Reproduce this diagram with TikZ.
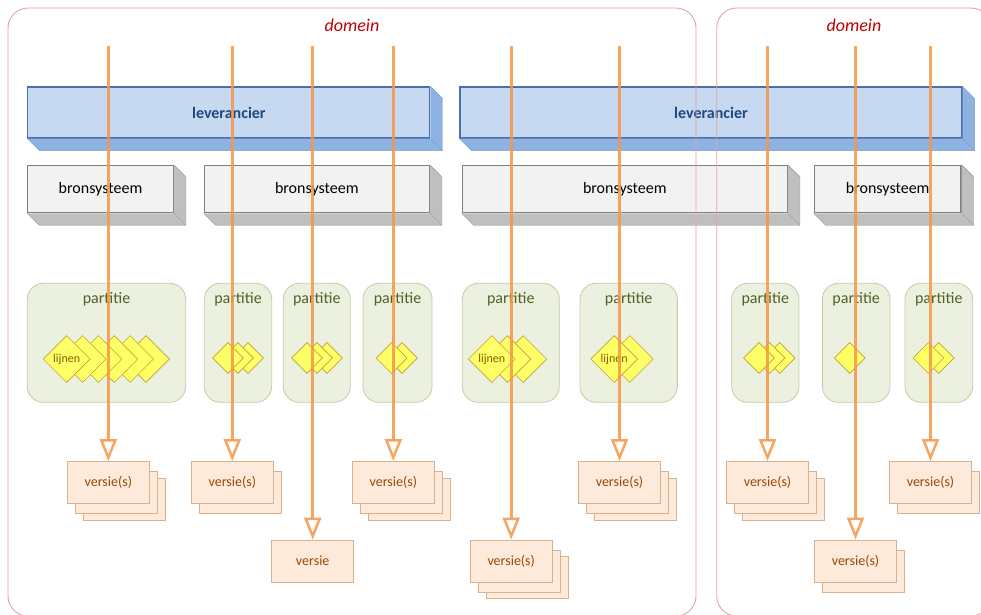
\documentclass[tikz,border=0pt]{standalone}
\usepackage{fontspec}
\setmainfont{Carlito}
\usetikzlibrary{shapes.geometric,arrows.meta,calc}
\definecolor{levfill}{HTML}{C6D9F1}
\definecolor{levdepth}{HTML}{8DB3E2}
\definecolor{levline}{HTML}{4A70A8}
\definecolor{levtext}{HTML}{1F497D}
\definecolor{brfill}{HTML}{F2F2F2}
\definecolor{brdepth}{HTML}{BFBFBF}
\definecolor{brline}{HTML}{7F7F7F}
\definecolor{pfill}{HTML}{EBF1DE}
\definecolor{pline}{HTML}{C5CCAA}
\definecolor{ptext}{HTML}{4F6228}
\definecolor{dfill}{HTML}{FFFF66}
\definecolor{dline}{HTML}{BFA040}
\definecolor{dtext}{HTML}{7F5F00}
\definecolor{vfill}{HTML}{FDEADA}
\definecolor{vline}{HTML}{DDB08C}
\definecolor{vtext}{HTML}{984807}
\definecolor{orng}{HTML}{F79646}
\definecolor{domline}{HTML}{E8A0A8}
\definecolor{domtext}{HTML}{C00000}

\newcommand{\boxdepth}[3]{%
  \fill[#2] (#1.north east) -- ++(12pt,-12pt) -- ([shift={(12pt,-12pt)}]#1.south east) -- ([shift={(12pt,-12pt)}]#1.south west) -- (#1.south west) -- (#1.south east) -- cycle;
  \draw[#3, line join=round] (#1.north east) -- ++(12pt,-12pt) -- ([shift={(12pt,-12pt)}]#1.south east) -- ([shift={(12pt,-12pt)}]#1.south west) -- (#1.south west);
  \draw[#3] (#1.south east) -- ++(12pt,-12pt);
}

\tikzset{
  lev/.style={draw=levline, line width=1.1pt, fill=levfill, minimum height=51pt, inner sep=0pt,
    font=\fontsize{16}{19}\selectfont\bfseries, text=levtext},
  bron/.style={draw=brline, line width=1.3pt, fill=brfill, minimum height=47pt, inner sep=0pt,
    font=\fontsize{16}{19}\selectfont, text=black},
  part/.style={draw=pline, line width=0.8pt, fill=pfill, rounded corners=16pt, minimum height=119pt, inner sep=0pt},
  parttxt/.style={font=\fontsize{16}{19}\selectfont, text=ptext, inner sep=0pt},
  bigdia/.style={diamond, aspect=1, draw=dline, line width=0.6pt, fill=dfill, minimum width=47pt, minimum height=47pt, inner sep=0pt,
    font=\fontsize{12}{14}\selectfont, text=dtext},
  smalldia/.style={diamond, aspect=1, draw=dline, line width=0.6pt, fill=dfill, minimum width=31pt, minimum height=31pt, inner sep=0pt},
  vbox/.style={draw=vline, line width=0.9pt, fill=vfill, minimum width=82pt, minimum height=42pt, inner sep=0pt,
    font=\fontsize{14}{17}\selectfont, text=vtext},
  domframe/.style={draw=domline, line width=0.9pt, rounded corners=20pt, inner sep=0pt},
  domtxt/.style={font=\fontsize{18}{22}\selectfont\itshape, text=domtext, inner sep=0pt},
  arr/.style={draw=orng, line width=3pt, draw opacity=0.85,
    -{Triangle[width=17pt,length=22pt,fill=white,line width=2.5pt]}},
}

\begin{document}
\begin{tikzpicture}[x=1pt,y=-1pt]
\useasboundingbox (0,0) rectangle (981,614);
\fill[white] (0,0) rectangle (981,614);

% leveranciers
\node[lev, minimum width=402pt] (L1) at (228.9,112.5) {leverancier};
\boxdepth{L1}{levdepth}{levline!70}
\node[lev, minimum width=502pt] (L2) at (711,112.5) {leverancier};
\boxdepth{L2}{levdepth}{levline!70}

% bronsystemen
\node[bron, minimum width=145.6pt] (B1) at (100.5,189.1) {bronsysteem};
\boxdepth{B1}{brdepth}{brline!80}
\node[bron, minimum width=225pt] (B2) at (316.8,189.1) {bronsysteem};
\boxdepth{B2}{brdepth}{brline!80}
\node[bron, minimum width=325pt] (B3) at (624.8,189.1) {bronsysteem};
\boxdepth{B3}{brdepth}{brline!80}
\node[bron, minimum width=146.7pt] (B4) at (887.7,189.1) {bronsysteem};
\boxdepth{B4}{brdepth}{brline!80}

% partities
\node[part, minimum width=158.4pt] (P1) at (106.5,342.8) {};
\node[part, minimum width=67.4pt] (P2) at (238,342.8) {};
\node[part, minimum width=67pt] (P3) at (316.8,342.8) {};
\node[part, minimum width=69pt] (P4) at (397.5,342.8) {};
\node[part, minimum width=97pt] (P5) at (510.8,342.8) {};
\node[part, minimum width=97.3pt] (P6) at (628.7,342.8) {};
\node[part, minimum width=67.3pt] (P7) at (765.3,342.8) {};
\node[part, minimum width=67.7pt] (P8) at (856.2,342.8) {};
\node[part, minimum width=67.7pt] (P9) at (938.8,342.8) {};
\foreach \p in {P1,P2,P3,P4,P5,P6,P7,P8,P9}
  \node[parttxt] (\p t) at ([yshift=-16.7pt]\p.north) {partitie};

% diamonds (drawn right to left so the first lies on top)
\node[bigdia] (d16) at (146.0,359) {};
\node[bigdia] (d15) at (130.1,359) {};
\node[bigdia] (d14) at (114.3,359) {};
\node[bigdia] (d13) at (98.4,359) {};
\node[bigdia] (d12) at (82.6,359) {};
\node[bigdia] (d11) at (66.7,359) {lijnen};

\node[smalldia] (d23) at (248,358) {};
\node[smalldia] (d22) at (238,358) {};
\node[smalldia] (d21) at (228,358) {};

\node[smalldia] (d33) at (327,358) {};
\node[smalldia] (d32) at (317,358) {};
\node[smalldia] (d31) at (307,358) {};

\node[smalldia] (d42) at (402,358) {};
\node[smalldia] (d41) at (391.7,358) {};

\node[bigdia] (d53) at (523.2,359) {};
\node[bigdia] (d52) at (507.5,359) {};
\node[bigdia] (d51) at (491.8,359) {lijnen};

\node[bigdia] (d62) at (629.8,359) {};
\node[bigdia] (d61) at (614.2,359) {lijnen};

\node[smalldia] (d73) at (779.7,358) {};
\node[smalldia] (d72) at (769.5,358) {};
\node[smalldia] (d71) at (759,358) {};

\node[smalldia] (d81) at (849.7,358) {};

\node[smalldia] (d92) at (938.7,358) {};
\node[smalldia] (d91) at (928.3,358) {};

% versies
\node[vbox] (v1c) at (124.3,499) {};
\node[vbox] (v1b) at (116.3,492.5) {};
\node[vbox] (v1) at (108.3,482.5) {versie(s)};

\node[vbox] (v2b) at (240.3,492.5) {};
\node[vbox] (v2) at (232.3,482.5) {versie(s)};

\node[vbox] (v3) at (312.7,561) {versie};

\node[vbox] (v4c) at (409.3,499) {};
\node[vbox] (v4b) at (401.3,492.5) {};
\node[vbox] (v4) at (393.3,482.5) {versie(s)};

\node[vbox] (v5c) at (527.2,577.5) {};
\node[vbox] (v5b) at (519.2,571) {};
\node[vbox] (v5) at (511.2,561) {versie(s)};

\node[vbox] (v6c) at (635.5,499) {};
\node[vbox] (v6b) at (627.5,492.5) {};
\node[vbox] (v6) at (619.5,482.5) {versie(s)};

\node[vbox] (v7c) at (783.5,499) {};
\node[vbox] (v7b) at (775.5,492.5) {};
\node[vbox] (v7) at (767.5,482.5) {versie(s)};

\node[vbox] (v8b) at (863.5,571) {};
\node[vbox] (v8) at (855.5,561) {versie(s)};

\node[vbox] (v9b) at (938.5,492.5) {};
\node[vbox] (v9) at (930.5,482.5) {versie(s)};

% domains
\begin{scope}
\clip (0,0) rectangle (981,614);
\node[domframe, minimum width=688pt, minimum height=608pt] (D1) at (352,312) {};
\node[domframe, minimum width=274.3pt, minimum height=608pt] (D2) at (853.85,312) {};
\end{scope}
\node[domtxt] (D1t) at (352,25.5) {domein};
\node[domtxt] (D2t) at (854,25.5) {domein};

% arrows
\foreach \v in {v1,v2,v3,v4,v5,v6,v7,v8,v9}{
  \coordinate (\v top) at (\v.north |- 0,46);
  \draw[arr] (\v top) -- (\v.north);
}
\end{tikzpicture}
\end{document}
